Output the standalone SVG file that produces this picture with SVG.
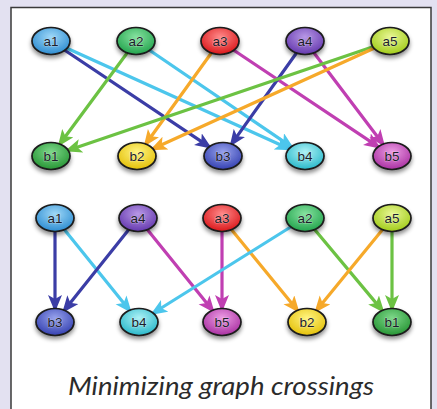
<svg xmlns="http://www.w3.org/2000/svg" width="437" height="409" viewBox="0 0 437 409">
<defs>
<style>
.edge{fill:none;stroke-width:3.2;stroke-linecap:round}
.navy{stroke:#3b3da6;marker-end:url(#mNavy)}
.cyan{stroke:#4cc6ec;marker-end:url(#mCyan)}
.green{stroke:#6cc243;marker-end:url(#mGreen)}
.orange{stroke:#f6a92a;marker-end:url(#mOrange)}
.magenta{stroke:#c03fb2;marker-end:url(#mMagenta)}
.node ellipse{stroke:#1a1a1a;stroke-width:1.7;filter:url(#shadow)}
.node text{font-family:"Liberation Sans",Arial,sans-serif;font-size:13.5px;fill:#1d1d2b;text-anchor:middle;stroke:#ffffff;stroke-opacity:0.35;stroke-width:1.2;paint-order:stroke}
.caption{font-family:"Lato","Open Sans",sans-serif;font-style:italic;font-size:25px;fill:#2b2b2b;text-anchor:middle}
</style>
<filter id="shadow" x="-40%" y="-40%" width="180%" height="200%">
<feDropShadow dx="0" dy="3" stdDeviation="2" flood-color="#000" flood-opacity="0.45"/>
</filter>
<marker id="mNavy" markerUnits="userSpaceOnUse" markerWidth="18" markerHeight="15" refX="12.5" refY="7" orient="auto"><path d="M0,0 L17,7 L0,14 L4,7 z" fill="#3b3da6"/></marker>
<marker id="mCyan" markerUnits="userSpaceOnUse" markerWidth="18" markerHeight="15" refX="12.5" refY="7" orient="auto"><path d="M0,0 L17,7 L0,14 L4,7 z" fill="#4cc6ec"/></marker>
<marker id="mGreen" markerUnits="userSpaceOnUse" markerWidth="18" markerHeight="15" refX="12.5" refY="7" orient="auto"><path d="M0,0 L17,7 L0,14 L4,7 z" fill="#6cc243"/></marker>
<marker id="mOrange" markerUnits="userSpaceOnUse" markerWidth="18" markerHeight="15" refX="12.5" refY="7" orient="auto"><path d="M0,0 L17,7 L0,14 L4,7 z" fill="#f6a92a"/></marker>
<marker id="mMagenta" markerUnits="userSpaceOnUse" markerWidth="18" markerHeight="15" refX="12.5" refY="7" orient="auto"><path d="M0,0 L17,7 L0,14 L4,7 z" fill="#c03fb2"/></marker>
<radialGradient id="gBlue" cx="50%" cy="35%" r="60%"><stop offset="0" stop-color="#9fd8f8"/><stop offset="1" stop-color="#3592d4"/></radialGradient>
<radialGradient id="gGreen" cx="50%" cy="35%" r="60%"><stop offset="0" stop-color="#86e2a0"/><stop offset="1" stop-color="#2aa853"/></radialGradient>
<radialGradient id="gRed" cx="50%" cy="35%" r="60%"><stop offset="0" stop-color="#ff8a8a"/><stop offset="1" stop-color="#dd1f22"/></radialGradient>
<radialGradient id="gPurple" cx="50%" cy="35%" r="60%"><stop offset="0" stop-color="#b898e6"/><stop offset="1" stop-color="#6a3fb2"/></radialGradient>
<radialGradient id="gLime" cx="50%" cy="35%" r="60%"><stop offset="0" stop-color="#e8f694"/><stop offset="1" stop-color="#a6cf22"/></radialGradient>
<radialGradient id="gGreen2" cx="50%" cy="35%" r="60%"><stop offset="0" stop-color="#7ed88a"/><stop offset="1" stop-color="#2d9a3b"/></radialGradient>
<radialGradient id="gYellow" cx="50%" cy="35%" r="60%"><stop offset="0" stop-color="#fff480"/><stop offset="1" stop-color="#e6c412"/></radialGradient>
<radialGradient id="gIndigo" cx="50%" cy="35%" r="60%"><stop offset="0" stop-color="#97a2ec"/><stop offset="1" stop-color="#3c48b5"/></radialGradient>
<radialGradient id="gCyan" cx="50%" cy="35%" r="60%"><stop offset="0" stop-color="#aef2f6"/><stop offset="1" stop-color="#33bccd"/></radialGradient>
<radialGradient id="gMagenta" cx="50%" cy="35%" r="60%"><stop offset="0" stop-color="#ec9ce4"/><stop offset="1" stop-color="#ae38a6"/></radialGradient>
</defs>

<rect x="0" y="0" width="437" height="409" fill="#e3e1f1"/>
<rect x="11" y="7.5" width="420" height="410" fill="#ffffff" stroke="#3a3a3a" stroke-width="1.5"/>

<g id="connectors">
<!-- top graph -->
<line class="edge navy" x1="51" y1="41" x2="208.3" y2="146.2"/>
<line class="edge cyan" x1="51" y1="41" x2="288" y2="148.3"/>
<line class="edge green" x1="136" y1="41" x2="60.4" y2="143.2"/>
<line class="edge cyan" x1="136" y1="41" x2="290.4" y2="146.1"/>
<line class="edge orange" x1="220" y1="41" x2="146.3" y2="143.2"/>
<line class="edge magenta" x1="220" y1="41" x2="377.3" y2="146.2"/>
<line class="edge navy" x1="305" y1="41" x2="232.2" y2="143.1"/>
<line class="edge magenta" x1="305" y1="41" x2="382.4" y2="143.3"/>
<line class="edge green" x1="390" y1="41" x2="69.1" y2="149.9"/>
<line class="edge orange" x1="390" y1="41" x2="154" y2="148.3"/>
<!-- bottom graph -->
<line class="edge navy" x1="55" y1="218" x2="55" y2="307.5"/>
<line class="edge cyan" x1="55" y1="218" x2="128.9" y2="309.5"/>
<line class="edge navy" x1="138" y1="218" x2="65" y2="309.4"/>
<line class="edge magenta" x1="138" y1="218" x2="211.9" y2="309.5"/>
<line class="edge magenta" x1="222" y1="218" x2="222" y2="307.5"/>
<line class="edge orange" x1="222" y1="218" x2="296.8" y2="309.5"/>
<line class="edge cyan" x1="305" y1="218" x2="154.1" y2="312.5"/>
<line class="edge green" x1="305" y1="218" x2="381.6" y2="309.6"/>
<line class="edge orange" x1="392" y1="218" x2="317.2" y2="309.5"/>
<line class="edge green" x1="392" y1="218" x2="392" y2="307.5"/>
</g>

<!-- top graph nodes -->
<g id="top-a1" class="node"><ellipse cx="51" cy="41" rx="19" ry="13.5" fill="url(#gBlue)"/><text x="51" y="45.5">a1</text></g>
<g id="top-a2" class="node"><ellipse cx="136" cy="41" rx="19" ry="13.5" fill="url(#gGreen)"/><text x="136" y="45.5">a2</text></g>
<g id="top-a3" class="node"><ellipse cx="220" cy="41" rx="19" ry="13.5" fill="url(#gRed)"/><text x="220" y="45.5">a3</text></g>
<g id="top-a4" class="node"><ellipse cx="305" cy="41" rx="19" ry="13.5" fill="url(#gPurple)"/><text x="305" y="45.5">a4</text></g>
<g id="top-a5" class="node"><ellipse cx="390" cy="41" rx="19" ry="13.5" fill="url(#gLime)"/><text x="390" y="45.5">a5</text></g>
<g id="top-b1" class="node"><ellipse cx="51" cy="156" rx="19" ry="13.5" fill="url(#gGreen2)"/><text x="51" y="160.5">b1</text></g>
<g id="top-b2" class="node"><ellipse cx="137" cy="156" rx="19" ry="13.5" fill="url(#gYellow)"/><text x="137" y="160.5">b2</text></g>
<g id="top-b3" class="node"><ellipse cx="223" cy="156" rx="19" ry="13.5" fill="url(#gIndigo)"/><text x="223" y="160.5">b3</text></g>
<g id="top-b4" class="node"><ellipse cx="305" cy="156" rx="19" ry="13.5" fill="url(#gCyan)"/><text x="305" y="160.5">b4</text></g>
<g id="top-b5" class="node"><ellipse cx="392" cy="156" rx="19" ry="13.5" fill="url(#gMagenta)"/><text x="392" y="160.5">b5</text></g>

<!-- bottom graph nodes -->
<g id="bot-a1" class="node"><ellipse cx="55" cy="218" rx="19" ry="13.5" fill="url(#gBlue)"/><text x="55" y="222.5">a1</text></g>
<g id="bot-a4" class="node"><ellipse cx="138" cy="218" rx="19" ry="13.5" fill="url(#gPurple)"/><text x="138" y="222.5">a4</text></g>
<g id="bot-a3" class="node"><ellipse cx="222" cy="218" rx="19" ry="13.5" fill="url(#gRed)"/><text x="222" y="222.5">a3</text></g>
<g id="bot-a2" class="node"><ellipse cx="305" cy="218" rx="19" ry="13.5" fill="url(#gGreen)"/><text x="305" y="222.5">a2</text></g>
<g id="bot-a5" class="node"><ellipse cx="392" cy="218" rx="19" ry="13.5" fill="url(#gLime)"/><text x="392" y="222.5">a5</text></g>
<g id="bot-b3" class="node"><ellipse cx="55" cy="322" rx="19" ry="13.5" fill="url(#gIndigo)"/><text x="55" y="326.5">b3</text></g>
<g id="bot-b4" class="node"><ellipse cx="139" cy="322" rx="19" ry="13.5" fill="url(#gCyan)"/><text x="139" y="326.5">b4</text></g>
<g id="bot-b5" class="node"><ellipse cx="222" cy="322" rx="19" ry="13.5" fill="url(#gMagenta)"/><text x="222" y="326.5">b5</text></g>
<g id="bot-b2" class="node"><ellipse cx="307" cy="322" rx="19" ry="13.5" fill="url(#gYellow)"/><text x="307" y="326.5">b2</text></g>
<g id="bot-b1" class="node"><ellipse cx="392" cy="322" rx="19" ry="13.5" fill="url(#gGreen2)"/><text x="392" y="326.5">b1</text></g>

<text class="caption" x="221" y="395" textLength="306" lengthAdjust="spacingAndGlyphs">Minimizing graph crossings</text>
</svg>
